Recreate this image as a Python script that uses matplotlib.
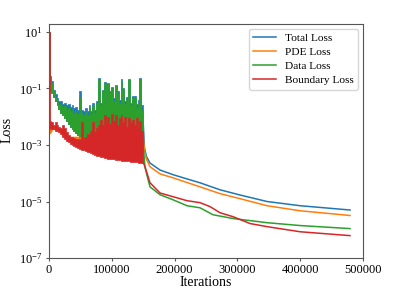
import matplotlib
matplotlib.use("Agg")
import matplotlib.pyplot as plt
import numpy as np

plt.rcParams['font.family'] = ['Liberation Serif', 'DejaVu Serif']
plt.rcParams['mathtext.fontset'] = 'stix'

# ---------- noisy phase (0 - 150000 iterations), values as log10(loss) ----------
noisy_x = [0, 1000, 2000, 3000, 6000, 9000, 12000, 15000, 18000, 21000, 24000, 27000, 30000,
           33000, 36000, 39000, 42000, 45000, 48000, 51000, 54000, 57000, 60000, 63000, 66000,
           69000, 72000, 75000, 78000, 81000, 84000, 87000, 90000, 93000, 96000, 99000, 102000,
           105000, 108000, 111000, 114000, 117000, 120000, 123000, 126000, 129000, 132000,
           135000, 138000, 141000, 144000, 147000, 150000]

total_peak_log = [1.0, -0.15, -0.55, -0.75, -1.05, -1.2, -1.35, -1.45, -1.45, -1.55, -1.5, -1.6, -1.55,
                  -1.65, -1.6, -1.7, -1.65, -1.75, -1.1, -1.75, -1.8, -1.7, -1.8, -1.6, -1.8,
                  -1.5, -1.75, -1.45, -0.62, -1.5, -1.05, -0.76, -1.4, -0.8, -1.08, -0.96, -1.35,
                  -0.86, -1.1, -1.4, -0.68, -1.0, -1.45, -1.3, -0.66, -1.5, -1.25,
                  -1.28, -1.55, -1.4, -0.62, -1.6, -2.2]
total_floor_log = [-1.0, -1.0, -1.1, -1.15, -1.3, -1.45, -1.6, -1.72, -1.85, -1.95, -2.05, -2.15, -2.25,
                   -2.35, -2.42, -2.5, -2.58, -2.65, -2.7, -2.75, -2.8, -2.8, -2.82, -2.82, -2.84,
                   -2.85, -2.86, -2.87, -2.88, -2.88, -2.89, -2.9, -2.9, -2.91, -2.92, -2.92, -2.93,
                   -2.94, -2.94, -2.95, -2.95, -2.96, -2.96, -2.97, -2.97, -2.98, -2.98,
                   -2.99, -2.99, -3.0, -3.0, -3.0, -3.0]

data_peak_log = [1.0, -0.2, -0.6, -0.8, -1.1, -1.3, -1.45, -1.55, -1.6, -1.65, -1.62, -1.75, -1.7,
                 -1.8, -1.72, -1.85, -1.78, -1.9, -1.3, -1.85, -1.95, -1.8, -1.95, -1.7, -1.9,
                 -1.6, -1.85, -1.5, -0.66, -1.6, -1.1, -0.8, -1.5, -0.85, -1.12, -1.0, -1.45,
                 -0.9, -1.15, -1.5, -0.72, -1.05, -1.55, -1.4, -0.7, -1.6, -1.3,
                 -1.33, -1.7, -1.5, -0.66, -1.75, -2.3]
data_floor_log = [-1.0, -1.0, -1.1, -1.15, -1.3, -1.45, -1.6, -1.72, -1.85, -1.95, -2.05, -2.15, -2.25,
                  -2.35, -2.42, -2.5, -2.58, -2.65, -2.7, -2.75, -2.8, -2.8, -2.82, -2.82, -2.84,
                  -2.85, -2.86, -2.87, -2.88, -2.88, -2.89, -2.9, -2.9, -2.91, -2.92, -2.92, -2.93,
                  -2.94, -2.94, -2.95, -2.95, -2.96, -2.96, -2.97, -2.97, -2.98, -2.98,
                  -2.99, -2.99, -3.0, -3.0, -3.0, -3.0]

bnd_peak_log = [1.0, -2.1, -2.15, -2.2, -2.3, -2.2, -2.3, -2.35, -2.4, -2.3, -2.4, -2.55, -2.65,
                -2.7, -2.72, -2.75, -2.78, -2.8, -2.8, -2.2, -2.75, -2.7, -2.6, -2.65, -2.5,
                -2.2, -2.55, -2.4, -2.3, -2.1, -2.3, -1.95, -2.2, -2.0, -2.25, -1.9, -2.15,
                -1.95, -2.3, -2.05, -1.95, -2.2, -2.0, -2.35, -2.05, -2.2, -2.1,
                -2.3, -2.05, -2.4, -2.15, -2.5, -2.6]
bnd_floor_log = [-2.4, -2.45, -2.45, -2.45, -2.45, -2.5, -2.5, -2.55, -2.6, -2.7, -2.78, -2.85, -2.9,
                 -2.95, -3.0, -3.03, -3.06, -3.1, -3.13, -3.16, -3.19, -3.22, -3.24, -3.26, -3.3,
                 -3.33, -3.36, -3.38, -3.4, -3.42, -3.44, -3.45, -3.46, -3.48, -3.49, -3.5, -3.51,
                 -3.52, -3.53, -3.54, -3.55, -3.56, -3.57, -3.58, -3.58, -3.59, -3.6,
                 -3.6, -3.61, -3.62, -3.62, -3.63, -3.63]

# PDE loss is mostly hidden below the boundary loss in this phase
pde_band_x = [0, 1000, 3000, 6000, 15000, 30000, 60000, 100000, 150000]
pde_hi_log = [1.0, -2.2, -2.3, -2.35, -2.45, -2.7, -2.7, -2.4, -2.7]
pde_lo_log = [-2.6, -2.6, -2.55, -2.42, -2.5, -2.85, -3.2, -3.45, -3.6]

# ---------- smooth phase (after 150000 iterations) ----------
total_x = [150000, 152000, 155000, 160800, 176800, 197500, 219700, 240400, 272300, 304100, 347100, 399700, 479300]
total_y = [6.3e-3, 8e-4, 4e-4, 2.3e-4, 1.3e-4, 8.9e-5, 6.3e-5, 4.6e-5, 2.6e-5, 1.7e-5, 1e-5, 7.1e-6, 5e-6]
pde_x = [150000, 152000, 155000, 160800, 176800, 197500, 219700, 240400, 272300, 304100, 347100, 399700, 479300]
pde_y = [2e-3, 6.3e-4, 3.2e-4, 1.7e-4, 9.5e-5, 6.9e-5, 4.7e-5, 3.3e-5, 1.9e-5, 1.26e-5, 7.1e-6, 4.7e-6, 3.2e-6]
data_x = [150000, 152900, 160800, 176800, 197500, 219700, 240400, 261100, 293000, 347100, 399700, 479300]
data_y = [1e-3, 1.6e-4, 3.3e-5, 1.74e-5, 1.15e-5, 7.1e-6, 6e-6, 3.4e-6, 2.5e-6, 1.78e-6, 1.41e-6, 1.1e-6]
bnd_x = [150000, 152900, 160800, 176800, 197500, 219700, 240400, 256400, 272300, 293000, 320100, 347100, 399700, 479300]
bnd_y = [2.4e-4, 1.7e-4, 4.6e-5, 2e-5, 1.48e-5, 1.07e-5, 9.1e-6, 6.6e-6, 4e-6, 2.9e-6, 1.66e-6, 1.29e-6, 8.5e-7, 6.2e-7]

labels = ["Total Loss", "PDE Loss", "Data Loss", "Boundary Loss"]
colors = ["#1f77b4", "#ff7f0e", "#2ca02c", "#d62728"]


def p10(v):
    return np.power(10.0, np.asarray(v, dtype=float))


fig = plt.figure(figsize=(3.96, 2.90), dpi=100)
ax = fig.add_axes([0.1237, 0.1103, 0.7930, 0.8067])

lw = 1.1
# Total
ax.fill_between(noisy_x, p10(total_floor_log), p10(total_peak_log), step='post',
                color=colors[0], lw=0.5, zorder=1)
ax.plot(total_x, total_y, color=colors[0], lw=lw, label=labels[0], zorder=1)
# PDE
ax.fill_between(pde_band_x, p10(pde_lo_log), p10(pde_hi_log), color=colors[1], lw=0.5, zorder=2)
ax.plot(pde_x, pde_y, color=colors[1], lw=lw, label=labels[1], zorder=2)
# Data
ax.fill_between(noisy_x, p10(data_floor_log), p10(data_peak_log), step='post',
                color=colors[2], lw=0.5, zorder=3)
ax.plot(data_x, data_y, color=colors[2], lw=lw, label=labels[2], zorder=3)
# Boundary
ax.fill_between(noisy_x, p10(bnd_floor_log), p10(bnd_peak_log), step='post',
                color=colors[3], lw=0.5, zorder=4)
ax.plot(bnd_x, bnd_y, color=colors[3], lw=lw, label=labels[3], zorder=4)

ax.set_yscale('log')
ax.set_ylim(1e-7, 10 ** 1.28)
ax.set_xlim(0, 500000)
ax.set_xticks([0, 100000, 200000, 300000, 400000, 500000])
ax.set_yticks([1e-7, 1e-5, 1e-3, 1e-1, 1e1])
ax.yaxis.set_minor_locator(matplotlib.ticker.NullLocator())
ax.tick_params(labelsize=9, length=2.5, pad=2, color='#555555')
ax.set_xlabel("Iterations", fontsize=10, labelpad=0)
ax.set_ylabel("Loss", fontsize=10)
ax.yaxis.set_label_coords(-0.113, 0.547)
for s in ax.spines.values():
    s.set_color('#555555')
ax.legend(loc='upper right', fontsize=8.2, frameon=True, borderaxespad=0.4,
          labelspacing=0.35)

fig.savefig("out.png", dpi=100)
